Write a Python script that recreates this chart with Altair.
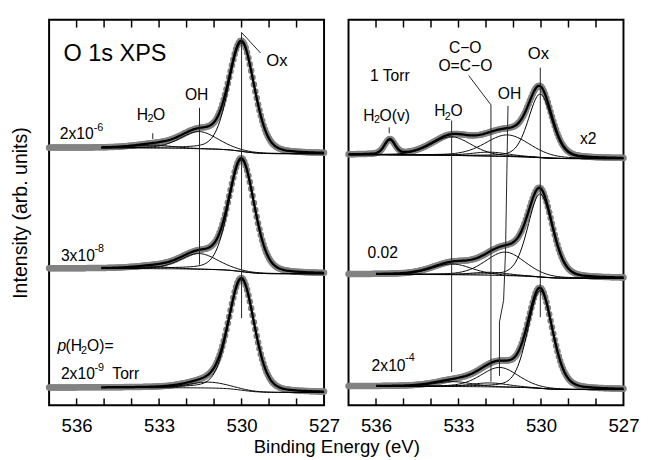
import altair as alt
import numpy as np
import pandas as pd

FONT = "Liberation Sans"

# ---------------- values ----------------
BE_HIGH, BE_LOW, BE_STEP = 537.0, 527.0, 0.05
TICK_LABELS = [536, 533, 530, 527]
TICKS_MINOR = [536, 535, 534, 533, 532, 531, 530, 529, 528]
LORENTZ_FRACTION = 0.25

# Left panel: spectra top -> bottom (2x10^-6, 3x10^-8, 2x10^-9 Torr)
L_bg_low = [2.570, 1.343, 0.130]      # background at the 527 eV side
L_bg_high = [2.630, 1.397, 0.180]     # background at the high-BE side
L_fit_start = [535.1, 535.1, 535.1]
L_centers = [[530.00, 531.54, 533.20], [530.00, 531.54, 533.20], [530.00, 531.20]]
L_heights = [[1.110, 0.175, 0.030], [1.140, 0.160, 0.020], [1.130, 0.060]]
L_fwhm = [[1.10, 1.60, 1.60], [1.10, 1.60, 1.60], [1.10, 1.70]]

# Right panel: spectra top -> bottom (1 Torr x2, 0.02, 2x10^-4 Torr)
R_bg_low = [2.520, 1.297, 0.160]
R_bg_high = [2.560, 1.337, 0.193]
R_fit_start = [537.0, 536.0, 536.0]
R_centers = [[530.03, 531.22, 531.85, 533.25, 535.50],
             [530.03, 531.30, 531.85, 533.23],
             [530.03, 531.50, 531.85, 533.20]]
R_heights = [[0.65, 0.22, 0.04, 0.19, 0.15],
             [0.85, 0.24, 0.03, 0.11],
             [1.00, 0.20, 0.04, 0.05]]
R_fwhm = [[1.00, 1.90, 1.60, 1.70, 0.45],
          [1.05, 1.70, 1.60, 1.70],
          [1.05, 1.60, 1.60, 1.60]]

# Leader lines (peak markers): id, binding energy, intensity
L_lead_id = ["ox", "ox", "ox", "oh", "oh", "h2o", "h2o"]
L_lead_E = [529.31, 530.00, 530.00, 531.53, 531.53, 533.23, 533.23]
L_lead_I = [3.60, 3.81, 0.89, 3.04, 1.437, 2.78, 2.72]

R_lead_id = ["ox", "ox", "oh", "oh", "oh", "oh", "oh", "co", "co", "co", "h2o", "h2o", "h2ov", "h2ov"]
R_lead_E = [530.025, 530.025, 531.20, 531.29, 531.36, 531.51, 531.51, 532.63, 531.82, 531.82,
            533.25, 533.25, 535.52, 535.52]
R_lead_I = [3.45, 0.90, 3.06, 1.57, 1.07, 0.85, 0.30, 3.37, 3.07, 0.24, 2.91, 0.34, 2.84, 2.78]

# Text labels: text, binding energy (left edge), intensity (baseline), font size
L_text = ["O 1s XPS", "Ox", "OH", "H", "2", "O", "2x10", "-6", "3x10", "-8",
          "(H", "2", "O)=", "2x10", "-9", "Torr"]
L_text_E = [536.48, 529.10, 532.06, 533.81, 533.42, 533.22, 536.61, 535.38, 536.57, 535.35,
            536.40, 535.84, 535.62, 536.57, 535.35, 534.70]
L_text_I = [3.52, 3.47, 3.12, 2.92, 2.89, 2.92, 2.72, 2.803, 1.477, 1.57,
            0.553, 0.52, 0.553, 0.27, 0.353, 0.27]
L_text_s = [24, 17, 16, 16, 11, 16, 16, 11, 16, 11, 16, 11, 16, 16, 11, 16]
L_ital = ["p"]
L_ital_E = [536.69]
L_ital_I = [0.553]

R_text = ["1 Torr", "C\u2212O", "O=C\u2212O", "Ox", "OH", "H", "2", "O", "H", "2", "O(v)",
          "x2", "0.02", "2x10", "-4"]
R_text_E = [536.22, 533.35, 533.73, 530.48, 531.57, 533.88, 533.50, 533.29, 536.46, 536.07, 535.87,
            528.58, 536.31, 536.16, 534.94]
R_text_I = [3.31, 3.60, 3.42, 3.537, 3.13, 2.953, 2.92, 2.953, 2.91, 2.887, 2.91,
            2.67, 1.51, 0.353, 0.453]
R_text_s = [16, 16, 16, 17, 16, 16, 11, 16, 16, 11, 16, 16, 16, 16, 11]

# ---------------- build tables ----------------
E = np.round(np.arange(BE_LOW, BE_HIGH + 1e-9, BE_STEP), 3)


def pv(x, c, h, w, eta=LORENTZ_FRACTION):
    d = (x - c) / w
    return h * ((1 - eta) * np.exp(-4 * np.log(2) * d ** 2) + eta / (1 + 4 * d ** 2))


def spectra(bg_low, bg_high, fit_start, centers, heights, fwhm, tag):
    pts, fit = [], []
    for k in range(len(bg_low)):
        comps = [pv(E, c, h, w) for c, h, w in zip(centers[k], heights[k], fwhm[k])]
        total = np.sum(comps, axis=0)
        cum = np.cumsum(total)
        bg = bg_low[k] + (bg_high[k] - bg_low[k]) * cum / cum[-1]
        env = bg + total
        pts.append(pd.DataFrame({"E": E, "I": env}))
        m = E <= fit_start[k] + 1e-9
        fit.append(pd.DataFrame({"E": E[m], "I": bg[m], "id": f"{tag}{k}bg", "kind": "thin"}))
        for j, comp in enumerate(comps):
            fit.append(pd.DataFrame({"E": E[m], "I": (bg + comp)[m], "id": f"{tag}{k}c{j}", "kind": "thin"}))
        fit.append(pd.DataFrame({"E": E[m], "I": env[m], "id": f"{tag}{k}env", "kind": "env"}))
    return pd.concat(pts, ignore_index=True), pd.concat(fit, ignore_index=True)


xs = alt.Scale(domain=[BE_HIGH, BE_LOW], nice=False, zero=False)
ys = alt.Scale(domain=[0, 3.94], nice=False, zero=False)
W, H = 281, 394


def panel(pts, fit, lead, txt, ital, first):
    axis_kw = dict(values=TICK_LABELS, labelFontSize=19, labelFont=FONT, labelColor="black",
                   ticks=False, tickSize=0, domain=False, grid=False, labelPadding=12,
                   labelFlush=False)
    if first:
        xaxis = alt.Axis(title="Binding Energy (eV)", titleFontSize=19, titleFont=FONT,
                         titleFontWeight="normal", titleColor="black", titleX=293.5, titleY=48,
                         titleAlign="center", titleBaseline="alphabetic", **axis_kw)
        ychan = alt.Y("I:Q", scale=ys, axis=alt.Axis(
            title="Intensity (arb. units)", labels=False, ticks=False, domain=False, grid=False,
            titleFontSize=20, titleFont=FONT, titleFontWeight="normal", titleColor="black",
            titlePadding=19))
    else:
        xaxis = alt.Axis(title=None, **axis_kw)
        ychan = alt.Y("I:Q", scale=ys, axis=None)
    xchan = alt.X("E:Q", scale=xs, axis=xaxis)

    dots = alt.Chart(pts).mark_circle(size=44, color="#828282", opacity=1).encode(x=xchan, y=ychan)
    thin = alt.Chart(fit[fit.kind == "thin"]).mark_line(color="black", strokeWidth=1).encode(
        x=xchan, y=ychan, detail="id:N", order="E:Q")
    env = alt.Chart(fit[fit.kind == "env"]).mark_line(color="black", strokeWidth=2.3).encode(
        x=xchan, y=ychan, detail="id:N", order="E:Q")
    leads = alt.Chart(lead).mark_line(color="#222222", strokeWidth=1).encode(
        x=xchan, y=ychan, detail="id:N", order="o:Q")
    tk = pd.DataFrame({"E": TICKS_MINOR})
    tick_b = alt.Chart(tk).mark_rule(color="black", strokeWidth=1.5).encode(
        x=xchan, y=alt.value(H), y2=alt.value(H - 7))
    tick_t = alt.Chart(tk).mark_rule(color="black", strokeWidth=1.5).encode(
        x=xchan, y=alt.value(0), y2=alt.value(8))
    texts = alt.Chart(txt).mark_text(align="left", baseline="alphabetic", font=FONT, color="black").encode(
        x=xchan, y=ychan, text="t:N", size=alt.Size("s:Q", scale=None))
    layers = [dots, thin, env, leads, tick_b, tick_t, texts]
    if ital is not None:
        layers.append(alt.Chart(ital).mark_text(align="left", baseline="alphabetic", font=FONT,
                                                fontStyle="italic", fontSize=16, color="black").encode(
            x=xchan, y=ychan, text="t:N"))
    return alt.layer(*layers).properties(width=W, height=H)


Lp, Lf = spectra(L_bg_low, L_bg_high, L_fit_start, L_centers, L_heights, L_fwhm, "L")
Rp, Rf = spectra(R_bg_low, R_bg_high, R_fit_start, R_centers, R_heights, R_fwhm, "R")


def lead_df(ids, es, ins):
    df = pd.DataFrame({"id": ids, "E": es, "I": ins})
    df["o"] = range(len(df))
    return df


L_lead = lead_df(L_lead_id, L_lead_E, L_lead_I)
R_lead = lead_df(R_lead_id, R_lead_E, R_lead_I)
L_txt = pd.DataFrame({"t": L_text, "E": L_text_E, "I": L_text_I, "s": L_text_s})
R_txt = pd.DataFrame({"t": R_text, "E": R_text_E, "I": R_text_I, "s": R_text_s})
L_it = pd.DataFrame({"t": L_ital, "E": L_ital_E, "I": L_ital_I})

left = panel(Lp, Lf, L_lead, L_txt, L_it, True)
right = panel(Rp, Rf, R_lead, R_txt, None, False)

chart = alt.hconcat(left, right, spacing=25, bounds="flush").properties(
    padding={"left": 2, "top": 5, "right": 5, "bottom": 0}
).configure_view(stroke="black", strokeWidth=2)

chart.save("out.html", embed_options={"renderer": "svg", "actions": False})
